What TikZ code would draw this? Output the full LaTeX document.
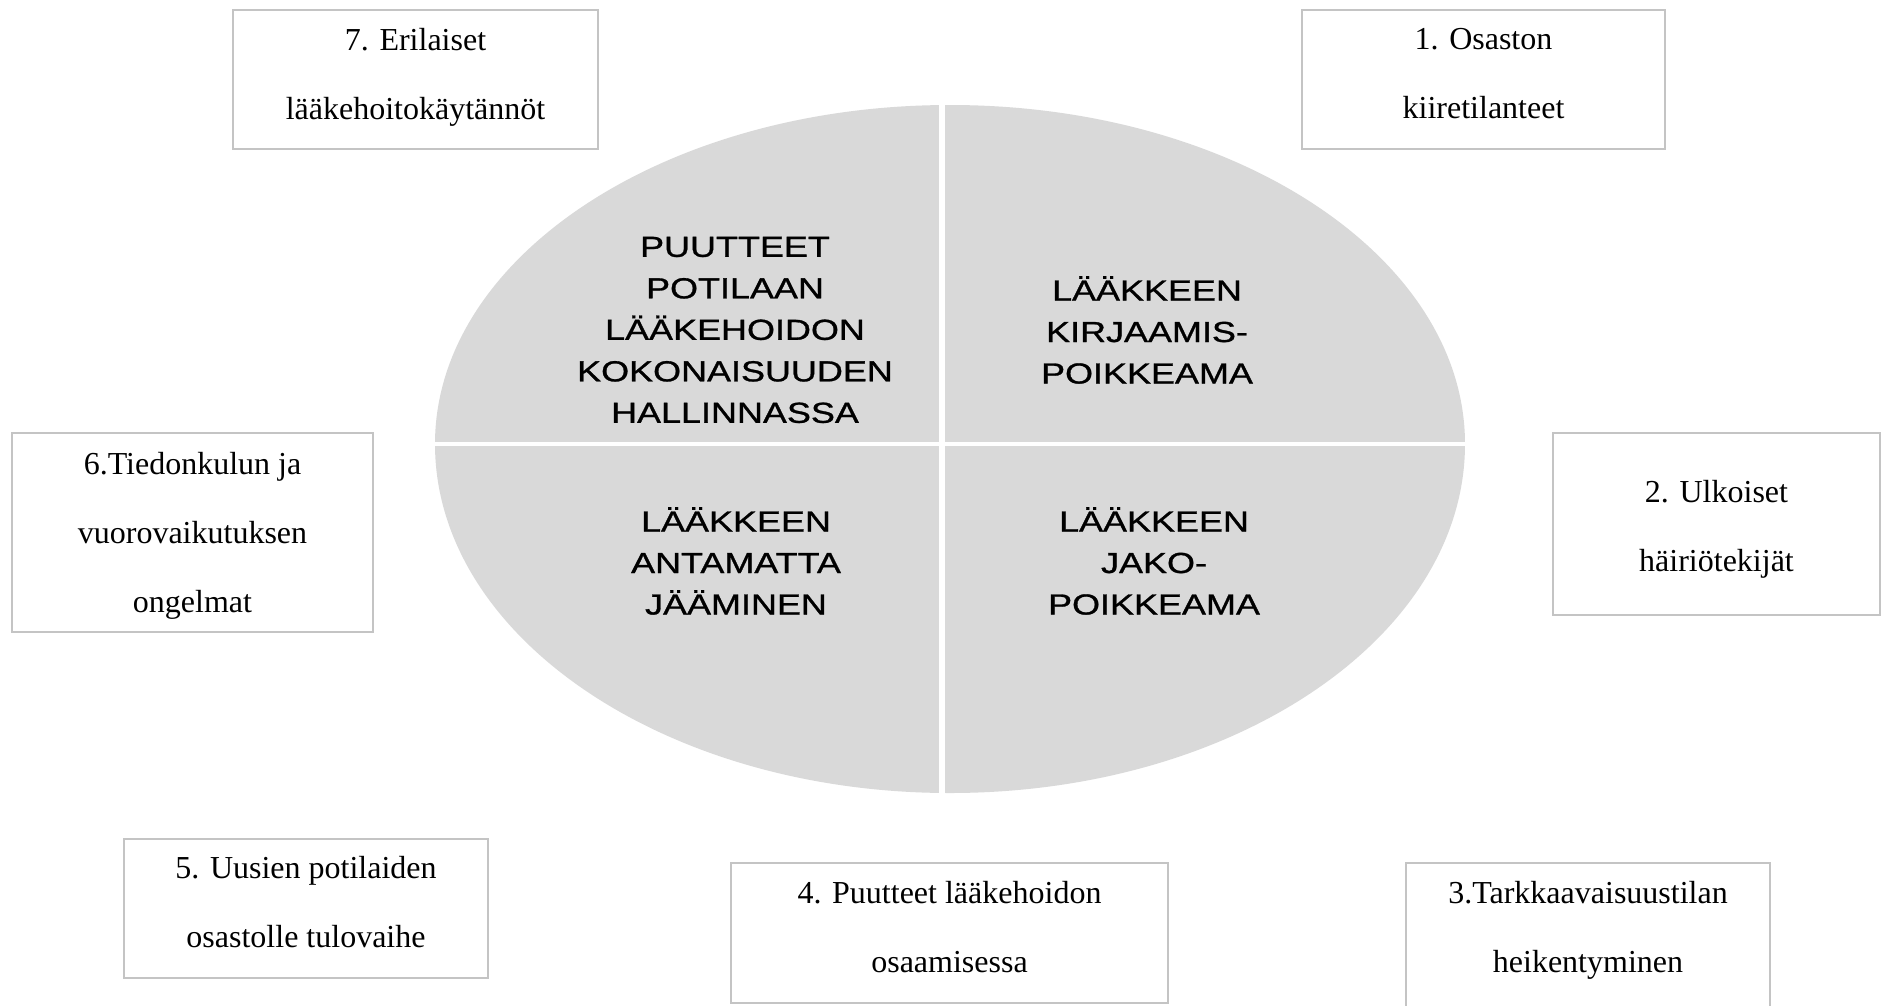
\documentclass[tikz,border=0pt]{standalone}
\usepackage{fontspec}
\usetikzlibrary{calc}
\setmainfont{Liberation Serif}
\newfontfamily\capsfont[FakeStretch=1.24,FakeBold=1]{Liberation Sans}
\definecolor{ovalgrey}{HTML}{D9D9D9}
\definecolor{boxline}{HTML}{C4C4C4}
\begin{document}
\begin{tikzpicture}[x=1pt,y=-1pt,
  factorbox/.style={draw=boxline, line width=2pt, fill=white, inner sep=0pt, anchor=north west},
  factortext/.style={align=center, inner sep=0pt, anchor=north,
    font=\fontsize{32}{69}\selectfont, execute at begin node={\rule{0pt}{23pt}}},
  quarter/.style={align=center, inner sep=0pt, font=\capsfont\fontsize{29}{41.5}\selectfont}]
\useasboundingbox (0,0) rectangle (1883,1005);
\fill[white] (0,0) rectangle (1883,1005);

% central oval split into four quarters (upper half slightly flatter)
\fill[ovalgrey] (435,444) arc[start angle=180, end angle=360, x radius=515, y radius=339]
  -- (1465,444) arc[start angle=0, end angle=180, x radius=515, y radius=349] -- cycle;
\draw[white, line width=6pt] (942,100) -- (942,800);
\draw[white, line width=4pt] (430,444) -- (1470,444);

\node[quarter] (q1) at (735,330) {PUUTTEET\\POTILAAN\\LÄÄKEHOIDON\\KOKONAISUUDEN\\HALLINNASSA};
\node[quarter] (q2) at (1147,330) {LÄÄKKEEN\\KIRJAAMIS-\\POIKKEAMA};
\node[quarter] (q3) at (736,561) {LÄÄKKEEN\\ANTAMATTA\\JÄÄMINEN};
\node[quarter] (q4) at (1154,561) {LÄÄKKEEN\\JAKO-\\POIKKEAMA};

% contributing factors around the oval
\node[factorbox, minimum width=365, minimum height=139] (f7) at (232,9) {};
\node[factortext] (f7t) at ($(f7.north)+(0,19)$) {7. Erilaiset\\lääkehoitokäytännöt};

\node[factorbox, minimum width=363, minimum height=139] (f1) at (1301,9) {};
\node[factortext] (f1t) at ($(f1.north)+(0,19)$) {1. Osaston\\kiiretilanteet};

\node[factorbox, minimum width=361, minimum height=199] (f6) at (11,432) {};
\node[factortext] (f6t) at ($(f6.north)+(0,20)$) {6.Tiedonkulun ja\\vuorovaikutuksen\\ongelmat};

\node[factorbox, minimum width=327, minimum height=182] (f2) at (1552,432) {};
\node[factortext] (f2t) at ($(f2.north)+(0,48)$) {2. Ulkoiset\\häiriötekijät};

\node[factorbox, minimum width=364, minimum height=139] (f5) at (123,838) {};
\node[factortext] (f5t) at ($(f5.north)+(0,18)$) {5. Uusien potilaiden\\osastolle tulovaihe};

\node[factorbox, minimum width=437, minimum height=140] (f4) at (730,862) {};
\node[factortext] (f4t) at ($(f4.north)+(0,19)$) {4. Puutteet lääkehoidon\\osaamisessa};

\node[factorbox, minimum width=364, minimum height=170] (f3) at (1405,862) {};
\node[factortext] (f3t) at ($(f3.north)+(0,19)$) {3.Tarkkaavaisuustilan\\heikentyminen};
\end{tikzpicture}
\end{document}
